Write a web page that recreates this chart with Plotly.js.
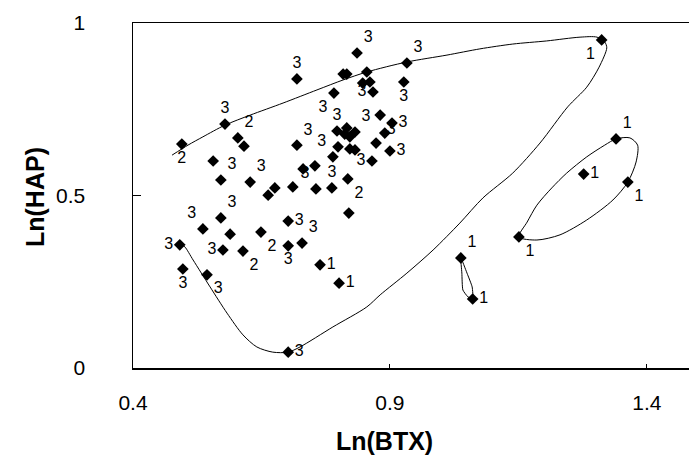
<!DOCTYPE html>
<html>
<head>
<meta charset="utf-8">
<script src="https://cdn.plot.ly/plotly-3.0.1.min.js"></script>
<style>html,body{margin:0;padding:0;background:#fff;}#chart{width:689px;height:464px;}</style>
</head>
<body>
<div id="chart"></div>
<script>
// ---------- DATA ----------
// Group 3 samples
const g3X = [0.836,0.719,0.809,0.816,0.855,0.933,0.847,0.861,0.867,0.927,0.791,0.579,0.881,0.904,
  0.816,0.832,0.822,0.812,0.797,0.890,0.799,0.822,0.832,0.873,0.789,0.900,0.865,0.754,0.731,0.719,
  0.756,0.787,0.711,0.676,0.663,0.628,0.571,0.556,0.571,0.536,0.589,0.702,0.491,0.575,0.702,0.729,
  0.497,0.544,0.702];
const g3Y = [0.913,0.838,0.852,0.852,0.858,0.884,0.826,0.829,0.800,0.829,0.797,0.707,0.733,0.710,
  0.696,0.684,0.670,0.678,0.687,0.681,0.641,0.635,0.632,0.652,0.612,0.629,0.600,0.586,0.577,0.646,
  0.519,0.522,0.525,0.522,0.501,0.539,0.545,0.600,0.435,0.403,0.388,0.426,0.357,0.342,0.354,0.362,
  0.287,0.270,0.046];
const g3Lab = ['3','3','','','','3','','','3','3','3','3','3','3',
  '','3','','','3','','','','','','3','3','3','','','3',
  '3','3','','','','3','3','','3','3','','3','3','3','3','3',
  '3','3','3'];
// Group 2 samples
const g2X = [0.495,0.604,0.616,0.649,0.614,0.818,0.820];
const g2Y = [0.649,0.667,0.643,0.394,0.339,0.548,0.449];
const g2Lab = ['2','2','','2','2','2',''];
// Group 1 samples
const g1X = [1.312,1.340,1.277,1.363,1.151,1.038,1.061,0.764,0.801];
const g1Y = [0.951,0.664,0.562,0.539,0.380,0.319,0.200,0.299,0.246];
const g1Lab = ['1','1','1','1','1','1','1','1','1'];

// Envelope curves
const envX = [0.476,0.507,0.536,0.579,0.628,0.692,0.758,0.809,0.855,0.933,1.011,1.075,1.139,1.205,1.270,1.303,1.318,1.322,
  1.307,1.283,1.246,1.192,1.139,1.081,1.036,0.984,0.933,0.881,0.855,0.789,0.725,0.702,0.672,0.641,0.614,0.583,0.550,0.517,0.501,0.495];
const envY = [0.617,0.646,0.670,0.704,0.733,0.768,0.806,0.835,0.858,0.887,0.907,0.925,0.939,0.948,0.959,0.959,0.945,0.928,
  0.872,0.814,0.757,0.652,0.565,0.493,0.420,0.342,0.275,0.212,0.177,0.119,0.061,0.046,0.046,0.061,0.096,0.159,0.235,0.313,0.351,0.357];
const ellX = [1.340,1.367,1.382,1.379,1.363,1.334,1.283,1.231,1.186,1.151,1.167,1.186,1.215,1.244,1.283,1.318,1.340];
const ellY = [0.664,0.667,0.646,0.597,0.539,0.487,0.429,0.386,0.371,0.380,0.423,0.472,0.522,0.565,0.612,0.646,0.664];
const loopX = [1.038,1.040,1.042,1.052,1.061,1.060,1.050,1.038];
const loopY = [0.319,0.275,0.226,0.206,0.200,0.235,0.275,0.319];

const xTicks = [0.4, 0.9, 1.4];
const xTickText = ['0.4','0.9','1.4'];
const yTicks = [0, 0.5, 1];
const yTickText = ['0','0.5','1'];
const xTitle = 'Ln(BTX)';
const yTitle = 'Ln(HAP)';

// ---------- STYLE ----------
const g3Pos = ['top right','top center','middle right','middle right','middle right','top right','middle right','middle right','middle left','bottom center','bottom left','top center','bottom right','middle right',
  'middle right','top right','middle right','middle right','top center','middle right','middle right','middle right','middle right','middle right','top left','middle right','middle left','middle right','middle right','top right',
  'top left','top center','middle right','middle right','middle right','top right','top right','middle right','top right','top left','middle right','middle right','middle left','middle left','bottom center','top right',
  'bottom center','bottom right','middle right'];
const g2Pos = ['bottom center','top right','middle right','bottom right','bottom right','bottom right','middle right'];
const g1Pos = ['bottom left','top right','middle right','bottom right','bottom right','top right','middle right','middle right','middle right'];

const FONT = 'Liberation Sans, Arial, sans-serif';
const lineStyle = {color:'#000', width:1, shape:'spline', smoothing:0.8};
function ptTrace(x, y, lab, pos){
  return {x:x, y:y, text:lab, textposition:pos, mode:'markers+text', type:'scatter',
    marker:{symbol:'diamond', size:9, color:'#000'},
    textfont:{family:FONT, size:16, color:'#000'}, hoverinfo:'skip', cliponaxis:false};
}
const data = [
  {x:envX, y:envY, mode:'lines', type:'scatter', line:lineStyle, hoverinfo:'skip'},
  {x:ellX, y:ellY, mode:'lines', type:'scatter', line:lineStyle, hoverinfo:'skip'},
  {x:loopX, y:loopY, mode:'lines', type:'scatter', line:{color:'#000', width:1, shape:'spline', smoothing:0.5}, hoverinfo:'skip'},
  ptTrace(g3X, g3Y, g3Lab, g3Pos),
  ptTrace(g2X, g2Y, g2Lab, g2Pos),
  ptTrace(g1X, g1Y, g1Lab, g1Pos)
];
const layout = {
  width:689, height:464, showlegend:false,
  paper_bgcolor:'#fff', plot_bgcolor:'#fff',
  margin:{l:133, r:0, t:23, b:96},
  font:{family:FONT, color:'#000'},
  xaxis:{range:[0.4, 1.482], tickvals:xTicks, ticktext:xTickText, showgrid:false, zeroline:false,
    showline:true, linecolor:'#000', linewidth:1.5, mirror:true, ticks:'inside', ticklen:4, tickcolor:'#000',
    tickfont:{family:FONT, size:21}, ticklabelstandoff:15},
  yaxis:{range:[0, 1], tickvals:yTicks, ticktext:yTickText, showgrid:false, zeroline:false,
    showline:true, linecolor:'#000', linewidth:1.5, ticks:'inside', ticklen:8, tickcolor:'#000',
    tickfont:{family:FONT, size:21}, ticklabelstandoff:42},
  annotations:[
    {text:'<b>'+xTitle+'</b>', xref:'paper', yref:'paper', x:0.452, y:-0.212, xanchor:'center', yanchor:'middle',
      showarrow:false, font:{family:FONT, size:25, color:'#000'}},
    {text:'<b>'+yTitle+'</b>', xref:'paper', yref:'paper', x:-0.176, y:0.496, xanchor:'center', yanchor:'middle',
      textangle:-90, showarrow:false, font:{family:FONT, size:25, color:'#000'}}
  ]
};
Plotly.newPlot('chart', data, layout, {staticPlot:true, displayModeBar:false});
</script>
</body>
</html>
